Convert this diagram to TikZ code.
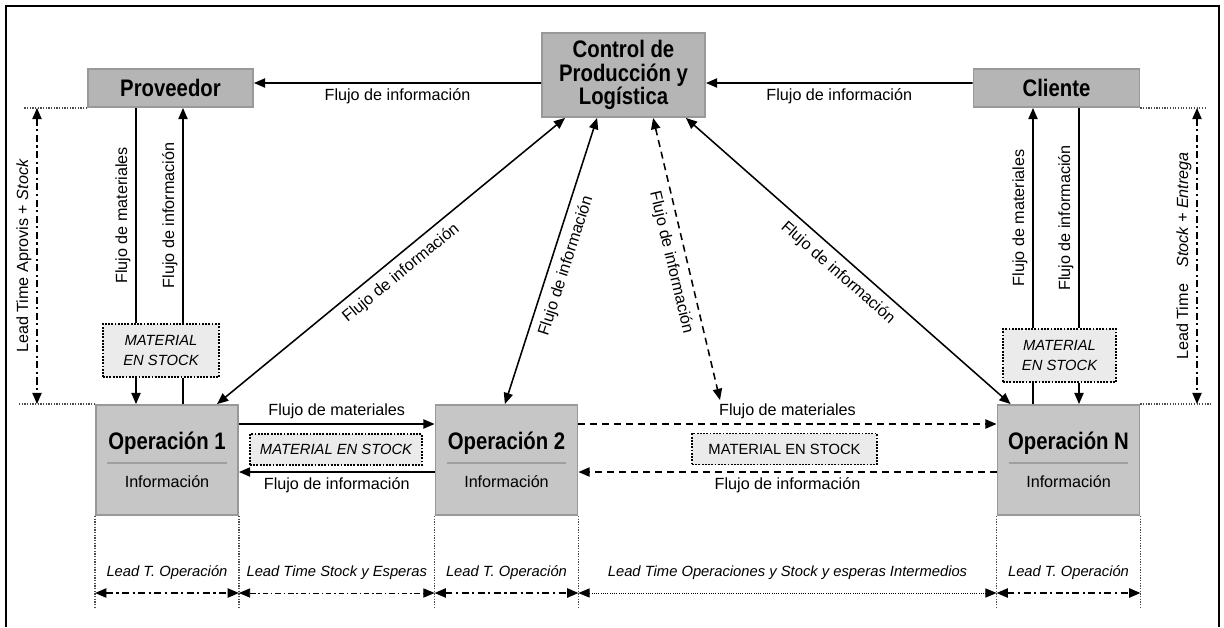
\documentclass[tikz,border=0pt]{standalone}
\usepackage{fontspec}
\setmainfont{Liberation Sans}
\newfontfamily\condfont[FakeStretch=0.85]{Liberation Sans}
\usetikzlibrary{positioning, calc, arrows.meta}
\colorlet{boxgray}{gray!58}
\colorlet{opgray}{gray!45}
\colorlet{stockgray}{gray!16}

\begin{document}
\begin{tikzpicture}[x=0.025cm, y=-0.025cm,
  >={Triangle[length=2.8mm, width=2.3mm]},
  area/.style={rectangle, draw=gray!80, line width=1.3pt, fill=boxgray, minimum height=0.95cm, align=center, font=\condfont\bfseries\fontsize{17}{16.5}\selectfont},
  operation/.style={rectangle, draw=gray!80, line width=1.3pt, fill=opgray, minimum width=3.55cm, minimum height=2.75cm},
  optitle/.style={font=\condfont\bfseries\fontsize{17}{17}\selectfont},
  opinfo/.style={font=\fontsize{11.5}{13}\selectfont},
  stock/.style={rectangle, draw, densely dotted, line width=1.3pt, fill=stockgray, align=center, font=\itshape\fontsize{10.5}{14}\selectfont},
  flow/.style={font=\fontsize{11.5}{13}\selectfont},
  leadlabel/.style={font=\itshape\fontsize{10.5}{12}\selectfont},
  link/.style={line width=1.1pt},
  dashlink/.style={line width=1.1pt, dash pattern=on 5pt off 3.5pt},
  guide/.style={gray!60!black, densely dotted, line width=0.9pt},
  leadtime/.style={<->, line width=1.1pt, dash pattern=on 5pt off 2.5pt on 1.5pt off 2.5pt},
  leadwait/.style={<->, line width=0.6pt, dash pattern=on 4pt off 2pt on 1pt off 2pt},
  leadlong/.style={<->, line width=0.6pt, densely dotted}]

\useasboundingbox (0,0) rectangle (1224,627);
\draw[line width=1.3pt] (6,627) -- (6,6) -- (1219,6) -- (1219,627);

% Areas

\node[area, minimum width=4.125cm] (prov) at (170.5,88) {Proveedor};
\node[area, minimum width=4.075cm, minimum height=2.1cm] (ctrl) at (623.5,75) {Control de\\Producción y\\Logística};
\node[area, minimum width=4.15cm] (cli) at (1056.5,88) {Cliente};

% Operations

\node[operation] (op1) at (167,460) {};
\node[optitle] (op1title) at ($(op1)+(0,-17)$) {Operación 1};
\node[opinfo] (op1info) at ($(op1)+(0,22)$) {Información};
\draw[gray!75, line width=1.3pt] ($(op1.west)+(12,3)$) -- ($(op1.east)+(-12,3)$);

\node[operation] (op2) at (506.5,460) {};
\node[optitle] (op2title) at ($(op2)+(0,-17)$) {Operación 2};
\node[opinfo] (op2info) at ($(op2)+(0,22)$) {Información};
\draw[gray!75, line width=1.3pt] ($(op2.west)+(12,3)$) -- ($(op2.east)+(-12,3)$);

\node[operation] (opN) at (1068.5,460) {};
\node[optitle] (opNtitle) at ($(opN)+(0,-17)$) {Operación N};
\node[opinfo] (opNinfo) at ($(opN)+(0,22)$) {Información};
\draw[gray!75, line width=1.3pt] ($(opN.west)+(12,3)$) -- ($(opN.east)+(-12,3)$);

% Stock

\node[stock, minimum width=2.9cm, minimum height=1.325cm] (stockprov) at (161,350.5) {MATERIAL\\EN STOCK};
\node[stock, minimum width=2.825cm, minimum height=1.325cm] (stockcli) at (1059.5,355.5) {MATERIAL\\EN STOCK};
\node[stock, minimum width=4.3cm, minimum height=0.775cm] (stock12) at (336,449.5) {MATERIAL EN STOCK};
\node[stock, minimum width=4.625cm, minimum height=0.775cm, font=\upshape\fontsize{10.5}{14}\selectfont] (stock2N) at (784.5,449) {MATERIAL EN STOCK};

% Flows

\coordinate (matprov) at (136,0);
\coordinate (infoprov) at (183,0);
\coordinate (matcli) at (1033,0);
\coordinate (infocli) at (1079,0);
\coordinate (midflow) at (720,400);

\draw[link, ->] ([yshift=-0.2cm]ctrl.west) -- ([yshift=0.125cm]prov.east) node[flow, midway, below] {Flujo de información};
\draw[link, ->] ([yshift=0.125cm]cli.west) -- ([yshift=-0.2cm]ctrl.east) node[flow, midway, below] {Flujo de información};

\draw[link] (prov.south -| matprov) -- (stockprov.north -| matprov) node[flow, midway, rotate=90, anchor=south] {Flujo de materiales};
\draw[link, ->] (stockprov.south -| matprov) -- (op1.north -| matprov);
\draw[link] (op1.north -| infoprov) -- (stockprov.south -| infoprov);
\draw[link, ->] (stockprov.north -| infoprov) -- (prov.south -| infoprov) node[flow, midway, rotate=90, anchor=south] {Flujo de información};

\draw[link] (opN.north -| matcli) -- (stockcli.south -| matcli);
\draw[link, ->] (stockcli.north -| matcli) -- (cli.south -| matcli) node[flow, midway, rotate=90, anchor=south] {Flujo de materiales};
\draw[link] (cli.south -| infocli) -- (stockcli.north -| infocli) node[flow, midway, rotate=90, anchor=south] {Flujo de información};
\draw[link, ->] (stockcli.south -| infocli) -- (opN.north -| infocli);

\draw[link, <->] ([xshift=-1.46cm]ctrl.south) -- ([xshift=1.25cm]op1.north) node[flow, midway, sloped, below=2pt] {Flujo de información};
\draw[link, <->] ([xshift=-0.66cm]ctrl.south) -- ([xshift=-0.04cm]op2.north) node[flow, midway, sloped, below=2pt] {Flujo de información};
\draw[dashlink, <->] ([xshift=0.74cm]ctrl.south) -- (midflow) node[flow, midway, sloped, below=2pt] {Flujo de información};
\draw[link, <->] ([xshift=1.56cm]ctrl.south) -- ([xshift=0.35cm]opN.north west) node[flow, midway, sloped, below=2pt] {Flujo de información};

\draw[link, ->] ([yshift=0.9cm]op1.east) -- ([yshift=0.9cm]op2.west) node[flow, midway, above] {Flujo de materiales};
\draw[link, ->] ([yshift=-0.3cm]op2.west) -- ([yshift=-0.3cm]op1.east) node[flow, midway, below] {Flujo de información};
\draw[dashlink, ->] ([yshift=0.9cm]op2.east) -- ([yshift=0.9cm]opN.west) node[flow, midway, above] {Flujo de materiales};
\draw[dashlink, ->] ([yshift=-0.3cm]opN.west) -- ([yshift=-0.3cm]op2.east) node[flow, midway, below] {Flujo de información};

% Lead times

\coordinate (leadprov) at (37,0);
\coordinate (leadcli) at (1197,0);
\coordinate (dimrow) at (0,593);

\draw[guide] (prov.south west) -- ++(-63,0);
\draw[guide] (op1.north west) -- ++(-76,0);
\draw[leadtime] (prov.south west -| leadprov) -- (op1.north west -| leadprov) node[flow, midway, rotate=90, anchor=south] {Lead Time Aprovis + \textit{Stock}};

\draw[guide] (cli.south east) -- ++(65,0);
\draw[guide] (opN.north east) -- ++(70,0);
\draw[leadtime] (cli.south east -| leadcli) -- (opN.north east -| leadcli) node[flow, midway, rotate=90, anchor=south] {Lead Time\quad\textit{Stock + Entrega}};

\draw[guide] (op1.south west) -- ++(0,92);
\draw[guide] (op1.south east) -- ++(0,92);
\draw[guide] (op2.south west) -- ++(0,92);
\draw[guide] (op2.south east) -- ++(0,92);
\draw[guide] (opN.south west) -- ++(0,92);
\draw[guide] (opN.south east) -- ++(0,92);

\draw[leadtime] (op1.south west |- dimrow) -- (op1.south east |- dimrow) node[leadlabel, midway, above=0.2cm] {Lead T. Operación};
\draw[leadwait] (op1.south east |- dimrow) -- (op2.south west |- dimrow) node[leadlabel, midway, above=0.2cm] {Lead Time Stock y Esperas};
\draw[leadtime] (op2.south west |- dimrow) -- (op2.south east |- dimrow) node[leadlabel, midway, above=0.2cm] {Lead T. Operación};
\draw[leadlong] (op2.south east |- dimrow) -- (opN.south west |- dimrow) node[leadlabel, midway, above=0.2cm] {Lead Time Operaciones y Stock y esperas Intermedios};
\draw[leadtime] (opN.south west |- dimrow) -- (opN.south east |- dimrow) node[leadlabel, midway, above=0.2cm] {Lead T. Operación};

\end{tikzpicture}
\end{document}
